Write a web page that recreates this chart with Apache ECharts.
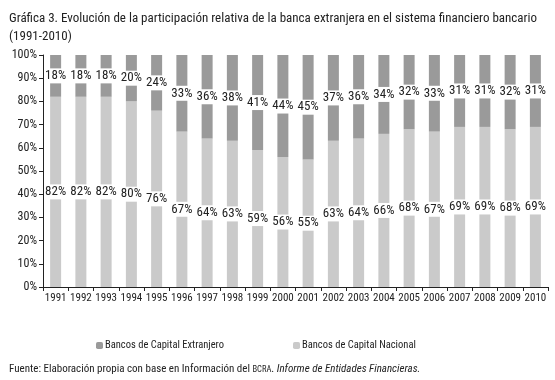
<!DOCTYPE html>
<html>
<head>
<meta charset="utf-8">
<script src="https://cdn.jsdelivr.net/npm/echarts@6/dist/echarts.min.js"></script>
<style>
  html, body { margin: 0; padding: 0; background: #fff; }
  #main { width: 555px; height: 380px; }
</style>
</head>
<body>
<div id="main"></div>
<script>
var years = ['1991','1992','1993','1994','1995','1996','1997','1998','1999','2000',
             '2001','2002','2003','2004','2005','2006','2007','2008','2009','2010'];
var extranjero = [18, 18, 18, 20, 24, 33, 36, 38, 41, 44, 45, 37, 36, 34, 32, 33, 31, 31, 32, 31];
var nacional = [82, 82, 82, 80, 76, 67, 64, 63, 59, 56, 55, 63, 64, 66, 68, 67, 69, 69, 68, 69];
var yTicks = [0, 10, 20, 30, 40, 50, 60, 70, 80, 90, 100];

var font = "'Roboto Condensed', 'DejaVu Sans', sans-serif";

var chart = echarts.init(document.getElementById('main'));

var labelStyle = {
    show: true,
    position: 'inside',
    formatter: '{c}%',
    color: '#222',
    fontFamily: font,
    fontSize: 13,
    backgroundColor: '#fff',
    padding: [1, 0]
};

var option = {
    animation: false,
    textStyle: { fontFamily: font },
    title: [{
        text: 'Gráfica 3. Evolución de la participación relativa de la banca extranjera en el sistema financiero bancario\n(1991-2010)',
        left: 4,
        top: 5,
        textStyle: { fontFamily: font, fontSize: 13, fontWeight: 'normal', color: '#222', lineHeight: 18 }
    }, {
        text: 'Fuente: Elaboración propia con base en Información del {sc|BCRA}. {it|Informe de Entidades Financieras.}',
        left: 4,
        top: 359,
        textStyle: {
            fontFamily: font, fontSize: 11, fontWeight: 'normal', color: '#222',
            rich: {
                sc: { fontFamily: font, fontSize: 8.5, color: '#222' },
                it: { fontFamily: font, fontSize: 11, fontStyle: 'italic', color: '#222' }
            }
        }
    }],
    legend: [{
        data: ['Bancos de Capital Extranjero'],
        left: 96,
        top: 340,
        padding: 0,
        itemWidth: 7,
        itemHeight: 7,
        textStyle: { fontFamily: font, fontSize: 10.5, color: '#222', padding: [0, 0, 0, -3] }
    }, {
        data: ['Bancos de Capital Nacional'],
        left: 293,
        top: 340,
        padding: 0,
        itemWidth: 7,
        itemHeight: 7,
        textStyle: { fontFamily: font, fontSize: 10.5, color: '#222', padding: [0, 0, 0, -3] }
    }],
    grid: { left: 43, right: 7, top: 55, bottom: 93 },
    xAxis: {
        type: 'category',
        data: years,
        axisLine: { lineStyle: { color: '#222', width: 1 } },
        axisTick: { show: true, length: 4, lineStyle: { color: '#222' } },
        axisLabel: { color: '#222', fontFamily: font, fontSize: 11, margin: 6, interval: 0 }
    },
    yAxis: {
        type: 'value',
        min: yTicks[0],
        max: yTicks[yTicks.length - 1],
        interval: 10,
        axisLine: { show: true, lineStyle: { color: '#222', width: 1 } },
        axisTick: { show: true, length: 4, lineStyle: { color: '#222' } },
        axisLabel: { color: '#222', fontFamily: font, fontSize: 12, margin: 6, formatter: '{value}%' },
        splitLine: { show: false }
    },
    series: [{
        name: 'Bancos de Capital Nacional',
        type: 'bar',
        stack: 'total',
        data: nacional,
        barWidth: 11,
        itemStyle: { color: '#cacaca' },
        label: labelStyle
    }, {
        name: 'Bancos de Capital Extranjero',
        type: 'bar',
        stack: 'total',
        data: extranjero,
        barWidth: 11,
        itemStyle: { color: '#9a9a9a' },
        label: labelStyle
    }]
};

chart.setOption(option);
</script>
</body>
</html>
